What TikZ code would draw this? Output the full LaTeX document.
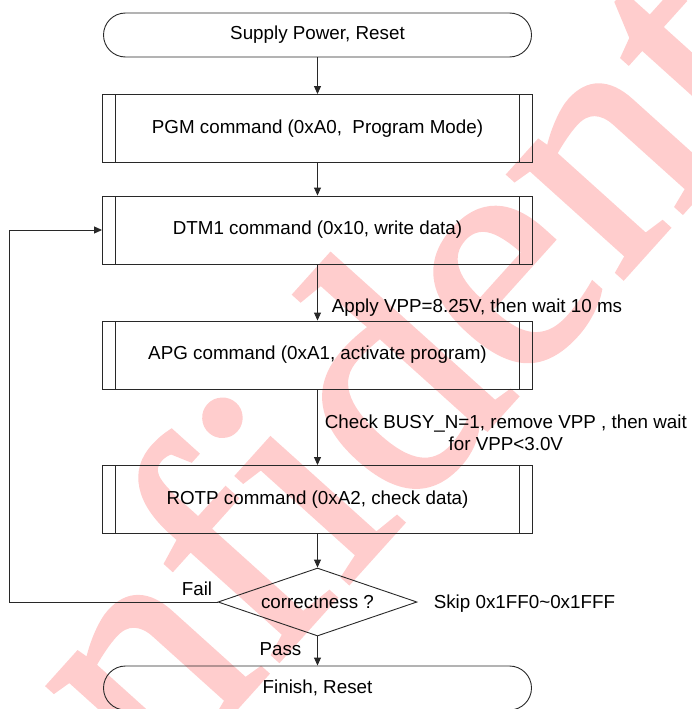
\documentclass[tikz,border=0pt]{standalone}
\usepackage{fontspec}
\setmainfont{Liberation Sans}
\newfontfamily\wmfont[FakeBold=1.5]{Liberation Serif}
\usetikzlibrary{arrows.meta,shapes.geometric}
\definecolor{wmred}{RGB}{255,205,205}
\definecolor{linegray}{RGB}{40,40,40}
\tikzset{
  termbox/.style={draw=linegray, rounded corners=22pt, minimum width=428pt, minimum height=44pt, inner sep=0pt},
  cmdbox/.style={draw=linegray, minimum width=430pt, minimum height=68pt, inner sep=0pt,
    path picture={
      \draw[linegray] ([xshift=13pt]path picture bounding box.north west) -- ([xshift=13pt]path picture bounding box.south west);
      \draw[linegray] ([xshift=-13pt]path picture bounding box.north east) -- ([xshift=-13pt]path picture bounding box.south east);
    }},
  decision/.style={draw=linegray, diamond, shape aspect=2.9, minimum width=199pt, minimum height=68pt, inner sep=0pt},
  watermark/.style={rotate=48, text=wmred, font=\wmfont\fontsize{335}{335}\selectfont, inner sep=0pt}
}
\begin{document}
\begin{tikzpicture}[x=1pt, y=-1pt, line width=0.9pt,
    >={Triangle[length=8pt,width=7pt]},
    every node/.append style={font=\fontsize{18.8}{22}\selectfont}]
    \useasboundingbox (0,0) rectangle (692,709);
    \begin{scope}
        \clip (0,0) rectangle (692,709);
        \node[watermark] (wm) at (370,385) {Confidential};
    \end{scope}

    \node[termbox] (start) at (317.5,35) {Supply Power, Reset};
    \node[cmdbox] (pgm) at (317.5,128.5) {PGM command (0xA0,~ Program Mode)};
    \node[cmdbox] (dtm) at (317.5,230) {DTM1 command (0x10, write data)};
    \node[cmdbox] (apg) at (317.5,355) {APG command (0xA1, activate program)};
    \node[cmdbox] (rotp) at (317.5,499.5) {ROTP command (0xA2, check data)};
    \node[decision] (check) at (317.5,602) {correctness ?};
    \node[termbox] (finish) at (317.5,688) {Finish, Reset};

    \draw[->, linegray] (start) -- (pgm);
    \draw[->, linegray] (pgm) -- (dtm);
    \draw[->, linegray] (dtm) -- (apg);
    \draw[->, linegray] (apg) -- (rotp);
    \draw[->, linegray] (rotp) -- (check);
    \draw[->, linegray] (check) -- (finish);
    \draw[->, linegray] (check.west) -- ++(-208,0) |- (dtm.west);

    \node[anchor=base west] (vpp) at (328,312) {Apply VPP=8.25V, then wait 10 ms};
    \node[anchor=west, align=center] (busy) at (321,433) {Check BUSY\_N=1, remove VPP , then wait\\for VPP<3.0V};
    \node[anchor=base] (fail) at (197,595) {Fail};
    \node[anchor=base west] (skip) at (430,608) {Skip 0x1FF0\textasciitilde 0x1FFF};
    \node[anchor=base] (pass) at (280.5,655) {Pass};
\end{tikzpicture}
\end{document}
